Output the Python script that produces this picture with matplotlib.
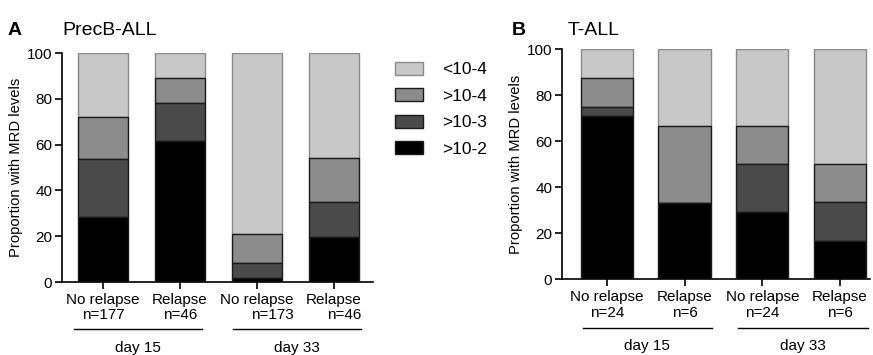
# MRD levels by relapse status, PrecB-ALL vs T-ALL

import matplotlib
matplotlib.use('Agg')
from matplotlib import pyplot as plt
from matplotlib.patches import Patch
import numpy as np

plt.rcParams['font.family'] = ['Liberation Sans', 'DejaVu Sans']

groups = ['No relapse', 'Relapse', 'No relapse', 'Relapse']
days = ['day 15', 'day 33']
levels = ['<10-4', '>10-4', '>10-3', '>10-2']
colors = ['#c8c8c8', '#8c8c8c', '#4a4a4a', '#000000']

# percentages, bottom to top: >10-2, >10-3, >10-4, <10-4
precb_n = [177, 46, 173, 46]
precb_e2 = [28.5, 61.7, 1.8, 19.6]
precb_e3 = [25.4, 16.6, 6.4, 15.2]
precb_e4 = [18.0, 10.8, 12.6, 19.5]
precb_lt4 = [28.1, 10.9, 79.2, 45.7]

tall_n = [24, 6, 24, 6]
tall_e2 = [70.8, 33.3, 29.2, 16.7]
tall_e3 = [4.2, 0.0, 20.8, 16.7]
tall_e4 = [12.5, 33.4, 16.7, 16.6]
tall_lt4 = [12.5, 33.3, 33.3, 50.0]

fig = plt.figure(figsize=(8.73, 3.55), dpi=100)


def draw_panel(ax, e2, e3, e4, lt4, n, width, xlim, group_spans, line_y, day_y, aligns):
    x = np.arange(len(groups))
    e2 = np.array(e2); e3 = np.array(e3); e4 = np.array(e4); lt4 = np.array(lt4)
    ax.bar(x, lt4, width, bottom=e2 + e3 + e4, color=colors[0], edgecolor='#8a8a8a', linewidth=1, zorder=2)
    ax.bar(x, e4, width, bottom=e2 + e3, color=colors[1], edgecolor='#1a1a1a', linewidth=1, zorder=3)
    ax.bar(x, e3, width, bottom=e2, color=colors[2], edgecolor='#1a1a1a', linewidth=1, zorder=3)
    ax.bar(x, e2, width, color=colors[3], edgecolor='#1a1a1a', linewidth=1, zorder=3)
    ax.set_ylim(0, 100)
    ax.set_xlim(*xlim)
    ax.set_yticks([0, 20, 40, 60, 80, 100])
    ax.set_xticks(x)
    labs = ax.set_xticklabels([f'{g}\nn={k}' for g, k in zip(groups, n)], fontsize=11, linespacing=1.1)
    for lab, al in zip(labs, aligns):
        lab.set_multialignment(al)
    ax.tick_params(axis='both', direction='out', length=5, width=1.2, labelsize=11, pad=3)
    ax.tick_params(axis='y', pad=2)
    for s in ['top', 'right']:
        ax.spines[s].set_visible(False)
    ax.spines['left'].set_linewidth(1.2)
    ax.spines['bottom'].set_linewidth(1.2)
    ax.set_ylabel('Proportion with MRD levels', fontsize=10.6, labelpad=3)
    tr = ax.get_xaxis_transform()
    for (a, b), d in zip(group_spans, days):
        ax.plot([a, b], [line_y, line_y], color='black', lw=1, transform=tr, clip_on=False)
        ax.text((a + b) / 2, day_y, d, transform=tr, ha='center', va='center', fontsize=11)


axA = fig.add_axes([0.0710, 0.2056, 0.3562, 0.645])
draw_panel(axA, precb_e2, precb_e3, precb_e4, precb_lt4, precb_n, 0.66,
           (-0.532, 3.506), [(-0.377, 1.286), (1.688, 3.35)], -0.205, -0.287,
           ['center', 'center', 'right', 'right'])

axB = fig.add_axes([0.6438, 0.2132, 0.3528, 0.648])
draw_panel(axB, tall_e2, tall_e3, tall_e4, tall_lt4, tall_n, 0.67,
           (-0.575, 3.385), [(-0.304, 1.35), (1.69, 3.36)], -0.212, -0.29,
           ['center', 'center', 'center', 'center'])

fig.text(0.009, 0.915, 'A', fontsize=14, fontweight='bold', va='center')
fig.text(0.071, 0.915, 'PrecB-ALL', fontsize=14, va='center')
fig.text(0.586, 0.915, 'B', fontsize=14, fontweight='bold', va='center')
fig.text(0.650, 0.915, 'T-ALL', fontsize=14, va='center')

handles = [Patch(facecolor=c, edgecolor='#1a1a1a' if i else '#8a8a8a', linewidth=1) for i, c in enumerate(colors)]
fig.legend(handles, levels, loc='upper left', bbox_to_anchor=(0.453, 0.826), frameon=False,
           fontsize=12.5, handlelength=1.6, handleheight=0.8, labelspacing=0.62, handletextpad=1.1,
           borderaxespad=0, borderpad=0)

fig.savefig('out.png', dpi=100)
